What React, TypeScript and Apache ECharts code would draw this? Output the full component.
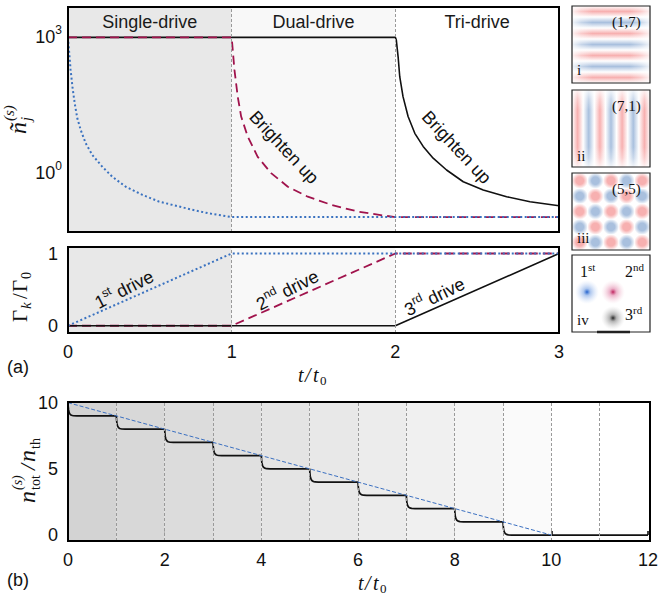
import React, { useEffect, useRef } from 'react';
import * as echarts from 'echarts';

const SANS = '"Liberation Sans", Arial, Helvetica, sans-serif';
const SERIF = '"Liberation Serif", "Times New Roman", serif';

// ---------- Panel (a), upper: log10 of ñ_j^(s) versus t/t0 ----------
const regionNames = ['Single-drive', 'Dual-drive', 'Tri-drive'];
const regionColors = ['#e8e8e8', '#f8f8f8', '#ffffff'];
const topTickExponents = [0, 3];

const blueT = [0, 0.006, 0.016, 0.027, 0.041, 0.057, 0.078, 0.108, 0.149, 0.21, 0.271, 0.353, 0.455, 0.557, 0.66, 0.76, 0.863, 1.0, 3.0];
const blueLog = [3, 2.72, 2.28, 1.91, 1.54, 1.21, 0.95, 0.66, 0.4, 0.14, -0.08, -0.3, -0.48, -0.63, -0.72, -0.81, -0.89, -0.97, -0.97];

const redT = [0, 1.0, 1.017, 1.037, 1.058, 1.098, 1.159, 1.241, 1.343, 1.465, 1.609, 1.772, 1.935, 2.0, 3.0];
const redLog = [3, 3, 2.28, 1.69, 1.25, 0.81, 0.36, 0.0, -0.3, -0.52, -0.7, -0.85, -0.94, -0.97, -0.97];

const blackT = [0, 2.0, 2.006, 2.017, 2.027, 2.047, 2.078, 2.119, 2.17, 2.231, 2.313, 2.415, 2.537, 2.68, 2.823, 3.0];
const blackLog = [3, 3, 2.94, 2.57, 2.13, 1.69, 1.25, 0.88, 0.59, 0.33, 0.07, -0.19, -0.37, -0.52, -0.63, -0.72];

// ---------- Panel (a), lower: Γk/Γ0 ----------
const rateBlueT = [0, 1, 3];
const rateBlue = [0, 1, 1];
const rateRedT = [0, 1, 2, 3];
const rateRed = [0, 0, 1, 1];
const rateBlackT = [0, 2, 3];
const rateBlack = [0, 0, 1];

// ---------- Panel (b): n_tot/n_th ----------
const stepTimes = [0, 1, 2, 3, 4, 5, 6, 7, 8, 9];
const stepLevels = [10, 9, 8, 7, 6, 5, 4, 3, 2, 1];
const dropDt = [0, 0.005, 0.012, 0.025, 0.045, 0.07, 0.11, 0.18];
const dropFrac = [0, 0.3, 0.55, 0.75, 0.88, 0.95, 0.99, 1];
const stepEnd = [12, 0];
const linearT = [0, 10];
const linearN = [10, 0];
const bandShades = ['#d3d3d3', '#d8d8d8', '#dcdcdc', '#e0e0e0', '#e4e4e4', '#e8e8e8', '#ececec', '#f0f0f0', '#f4f4f4', '#fafafa'];

// annotations (data coordinates)
const annotations = [
  { grid: 0, t: 1.32, v: 0.57, num: '', sup: '', text: 'Brighten up', angle: -47 },
  { grid: 0, t: 2.374, v: 0.57, num: '', sup: '', text: 'Brighten up', angle: -47 },
  { grid: 1, t: 0.343, v: 0.5, num: '1', sup: 'st', text: ' drive', angle: 27 },
  { grid: 1, t: 1.341, v: 0.49, num: '2', sup: 'nd', text: ' drive', angle: 27 },
  { grid: 1, t: 2.24, v: 0.4, num: '3', sup: 'rd', text: ' drive', angle: 26 },
];

// layout
const G0 = { left: 68, top: 7, width: 491, height: 225 };
const G1 = { left: 68, top: 247, width: 491, height: 86 };
const G2 = { left: 68, top: 402, width: 582, height: 139 };

const INSET_X = 572;
const INSET_W = 78;
const INSET_H = 77;
const insetTops = [6, 90, 173, 255];
const RED = '#f7b0b0';
const BLUE = '#a9c0de';

const zip = (a: number[], b: number[]) => a.map((x, i) => [x, b[i]]);

function stepData() {
  const pts: number[][] = [];
  stepTimes.forEach((t0, k) => {
    dropDt.forEach((dt, i) => pts.push([t0 + dt, stepLevels[k] - dropFrac[i]]));
  });
  pts.push(stepEnd);
  return pts;
}

function stripeStops(n: number) {
  const stops: any[] = [];
  for (let k = 0; k <= 2 * n; k++) {
    const off = k / (2 * n);
    if (k % 2 === 0) stops.push({ offset: off, color: '#ffffff' });
    else stops.push({ offset: off, color: ((k - 1) / 2) % 2 === 0 ? RED : BLUE });
  }
  return stops;
}

const fadeStops = [
  { offset: 0, color: 'rgba(255,255,255,0.85)' },
  { offset: 0.12, color: 'rgba(255,255,255,0.35)' },
  { offset: 0.26, color: 'rgba(255,255,255,0)' },
  { offset: 0.74, color: 'rgba(255,255,255,0)' },
  { offset: 0.88, color: 'rgba(255,255,255,0.35)' },
  { offset: 1, color: 'rgba(255,255,255,0.85)' },
];

const tickStyle = { show: true, inside: true, length: 4, lineStyle: { color: '#000', width: 1.5 } };
const lbl = { fontSize: 18, fontFamily: SANS, color: '#111' };

function txt(x: number, y: number, text: string, size: number, extra: any = {}) {
  return {
    type: 'text', x, y,
    style: { text, fontSize: size, fontFamily: SERIF, fill: '#111', align: 'left', verticalAlign: 'middle', ...extra },
  };
}

function buildInsets() {
  const els: any[] = [];
  const [t1, t2, t3, t4] = insetTops;
  // i : (1,7) horizontal stripes
  els.push({ type: 'rect', shape: { x: INSET_X, y: t1, width: INSET_W, height: INSET_H }, style: { fill: { type: 'linear', x: 0, y: 0, x2: 0, y2: 1, colorStops: stripeStops(7) } } });
  els.push({ type: 'rect', shape: { x: INSET_X, y: t1, width: INSET_W, height: INSET_H }, style: { fill: { type: 'linear', x: 0, y: 0, x2: 1, y2: 0, colorStops: fadeStops } } });
  // ii : (7,1) vertical stripes
  els.push({ type: 'rect', shape: { x: INSET_X, y: t2, width: INSET_W, height: INSET_H }, style: { fill: { type: 'linear', x: 0, y: 0, x2: 1, y2: 0, colorStops: stripeStops(7) } } });
  els.push({ type: 'rect', shape: { x: INSET_X, y: t2, width: INSET_W, height: INSET_H }, style: { fill: { type: 'linear', x: 0, y: 0, x2: 0, y2: 1, colorStops: fadeStops } } });
  // iii : (5,5) checkerboard
  els.push({ type: 'rect', shape: { x: INSET_X, y: t3, width: INSET_W, height: INSET_H }, style: { fill: '#fff' } });
  const cw = INSET_W / 5, ch = INSET_H / 5;
  for (let r = 0; r < 5; r++) {
    for (let c = 0; c < 5; c++) {
      const col = (r + c) % 2 === 0 ? RED : BLUE;
      els.push({
        type: 'rect', shape: { x: INSET_X + c * cw, y: t3 + r * ch, width: cw, height: ch },
        style: { fill: { type: 'radial', x: 0.5, y: 0.5, r: 0.7, colorStops: [{ offset: 0, color: col }, { offset: 0.35, color: col }, { offset: 0.75, color: '#ffffff' }, { offset: 1, color: '#ffffff' }] } },
      });
    }
  }
  // iv : spots
  els.push({ type: 'rect', shape: { x: INSET_X, y: t4, width: INSET_W, height: INSET_H }, style: { fill: '#fff' } });
  const spot = (cx: number, cy: number, c0: string, c1: string, c2: string) => ({
    type: 'circle', shape: { cx, cy, r: 12 },
    style: { fill: { type: 'radial', x: 0.5, y: 0.5, r: 0.5, colorStops: [{ offset: 0, color: c0 }, { offset: 0.3, color: c1 }, { offset: 1, color: c2 }] } },
  });
  els.push(spot(INSET_X + 15, t4 + 37, 'rgba(30,95,205,1)', 'rgba(110,155,225,0.55)', 'rgba(190,210,245,0)'));
  els.push(spot(INSET_X + 41, t4 + 37, 'rgba(190,30,90,1)', 'rgba(220,120,160,0.55)', 'rgba(245,200,215,0)'));
  els.push(spot(INSET_X + 41, t4 + 63, 'rgba(35,35,35,1)', 'rgba(120,120,120,0.55)', 'rgba(200,200,200,0)'));
  // borders
  insetTops.forEach((t) => els.push({ type: 'rect', z: 50, shape: { x: INSET_X, y: t, width: INSET_W, height: INSET_H }, style: { fill: 'none', stroke: '#222', lineWidth: 1.2 } }));
  els.push({ type: 'line', z: 51, shape: { x1: INSET_X + 25, y1: t4 + INSET_H, x2: INSET_X + 58, y2: t4 + INSET_H }, style: { stroke: '#222', lineWidth: 2.5 } });
  // labels
  els.push(txt(INSET_X + 40, t1 + 16, '(1,7)', 15, { z: 60 }));
  els.push(txt(INSET_X + 5, t1 + 64, 'i', 15));
  els.push(txt(INSET_X + 40, t2 + 16, '(7,1)', 15));
  els.push(txt(INSET_X + 5, t2 + 66, 'ii', 15));
  els.push(txt(INSET_X + 40, t3 + 16, '(5,5)', 15));
  els.push(txt(INSET_X + 5, t3 + 65, 'iii', 15));
  els.push(txt(INSET_X + 8, t4 + 16, '1', 16));
  els.push(txt(INSET_X + 16, t4 + 12, 'st', 11));
  els.push(txt(INSET_X + 53, t4 + 16, '2', 16));
  els.push(txt(INSET_X + 61, t4 + 12, 'nd', 11));
  els.push(txt(INSET_X + 53, t4 + 59, '3', 16));
  els.push(txt(INSET_X + 61, t4 + 55, 'rd', 11));
  els.push(txt(INSET_X + 5, t4 + 65, 'iv', 15));
  return els;
}

function titles() {
  const it = { fontStyle: 'italic' };
  return [
    // ñ_j^(s)
    { type: 'group', x: 18, y: 134, rotation: Math.PI / 2, children: [
      txt(0, 0, 'ñ', 24, it),
      txt(13, -9, '(s)', 15, it),
      txt(13, 8, 'j', 15, it),
    ] },
    // Γk/Γ0
    { type: 'group', x: 20, y: 322, rotation: Math.PI / 2, children: [
      txt(0, 0, 'Γ', 21),
      txt(13, 6, 'k', 15, it),
      txt(23, 0, '/', 21),
      txt(30, 0, 'Γ', 21),
      txt(43, 6, '0', 14),
    ] },
    // n_tot^(s)/n_th
    { type: 'group', x: 27, y: 503, rotation: Math.PI / 2, children: [
      txt(0, 0, 'n', 24, it),
      txt(13, -10, '(s)', 14, it),
      txt(13, 8, 'tot', 14),
      txt(33, 0, '/', 22, it),
      txt(41, 0, 'n', 24, it),
      txt(54, 8, 'th', 14),
    ] },
    // t/t0 (a)
    { type: 'group', x: 298, y: 375, children: [
      txt(0, 0, 't', 20, it), txt(7, 0, '/', 20, it), txt(15, 0, 't', 20, it), txt(22, 5, '0', 13),
    ] },
    // t/t0 (b)
    { type: 'group', x: 358, y: 583, children: [
      txt(0, 0, 't', 20, it), txt(7, 0, '/', 20, it), txt(15, 0, 't', 20, it), txt(22, 5, '0', 13),
    ] },
    { type: 'text', x: 7, y: 367, style: { text: '(a)', fontSize: 18, fontFamily: SANS, fill: '#111', verticalAlign: 'middle' } },
    { type: 'text', x: 7, y: 580, style: { text: '(b)', fontSize: 18, fontFamily: SANS, fill: '#111', verticalAlign: 'middle' } },
  ];
}

function frames() {
  return [G0, G1, G2].map((g) => ({
    type: 'rect', z: 100, shape: { x: g.left, y: g.top, width: g.width, height: g.height },
    style: { fill: 'none', stroke: '#000', lineWidth: 2 },
  }));
}

const dashedV = { color: '#9a9a9a', type: [3, 2], width: 1 };

function buildOption(): any {
  return {
    animation: false,
    backgroundColor: '#ffffff',
    grid: [
      { ...G0, containLabel: false },
      { ...G1, containLabel: false },
      { ...G2, containLabel: false },
    ],
    xAxis: [
      { gridIndex: 0, type: 'value', min: 0, max: 3, interval: 1, axisLine: { show: false }, axisTick: tickStyle, axisLabel: { show: false }, splitLine: { show: false } },
      { gridIndex: 1, type: 'value', min: 0, max: 3, interval: 1, axisLine: { show: false }, axisTick: tickStyle, axisLabel: { ...lbl, margin: 10 }, splitLine: { show: false } },
      { gridIndex: 2, type: 'value', min: 0, max: 12, interval: 2, axisLine: { show: false }, axisTick: tickStyle, axisLabel: { ...lbl, margin: 10 }, splitLine: { show: false } },
    ],
    yAxis: [
      {
        gridIndex: 0, type: 'value', min: -1.3, max: 3.67, axisLine: { show: false },
        axisTick: { ...tickStyle, customValues: topTickExponents },
        axisLabel: {
          customValues: topTickExponents, margin: 6,
          formatter: (v: number) => `{b|10}{s|${v}}`,
          rich: {
            b: { fontSize: 18, fontFamily: SANS, color: '#111', lineHeight: 26 },
            s: { fontSize: 12, fontFamily: SANS, color: '#111', verticalAlign: 'top' },
          },
        },
        splitLine: { show: false },
      },
      { gridIndex: 1, type: 'value', min: -0.1, max: 1.09, axisLine: { show: false }, axisTick: { ...tickStyle, customValues: [0, 1] }, axisLabel: { ...lbl, margin: 10, customValues: [0, 1] }, splitLine: { show: false } },
      { gridIndex: 2, type: 'value', min: -0.45, max: 10.05, axisLine: { show: false }, axisTick: { ...tickStyle, customValues: [0, 5, 10] }, axisLabel: { ...lbl, margin: 10, customValues: [0, 5, 10] }, splitLine: { show: false } },
    ],
    series: [
      // panel (a) upper backgrounds
      {
        type: 'line', xAxisIndex: 0, yAxisIndex: 0, data: [], silent: true, z: 1,
        markArea: {
          silent: true,
          label: { show: true, position: 'insideTop', distance: 6, fontSize: 18, fontFamily: SANS, color: '#1a1a1a' },
          data: regionNames.map((n, i) => [{ xAxis: i, name: n, itemStyle: { color: regionColors[i] } }, { xAxis: i + 1 }]),
        },
        markLine: { silent: true, symbol: 'none', label: { show: false }, lineStyle: dashedV, data: [{ xAxis: 1 }, { xAxis: 2 }] },
      },
      { type: 'line', xAxisIndex: 0, yAxisIndex: 0, data: zip(blackT, blackLog), symbol: 'none', z: 3, lineStyle: { color: '#111', width: 1.6 } },
      { type: 'line', xAxisIndex: 0, yAxisIndex: 0, data: zip(redT, redLog), symbol: 'none', z: 4, lineStyle: { color: '#a0134c', width: 1.8, type: [9, 5] } },
      { type: 'line', xAxisIndex: 0, yAxisIndex: 0, data: zip(blueT, blueLog), symbol: 'none', z: 5, lineStyle: { color: '#3a72c0', width: 2, type: [2, 2.5] } },

      // panel (a) lower
      {
        type: 'line', xAxisIndex: 1, yAxisIndex: 1, data: [], silent: true, z: 1,
        markArea: { silent: true, data: regionColors.map((c, i) => [{ xAxis: i, itemStyle: { color: c } }, { xAxis: i + 1 }]) },
        markLine: { silent: true, symbol: 'none', label: { show: false }, lineStyle: dashedV, data: [{ xAxis: 1 }, { xAxis: 2 }] },
      },
      { type: 'line', xAxisIndex: 1, yAxisIndex: 1, data: zip(rateRedT, rateRed), symbol: 'none', z: 3, lineStyle: { color: '#a0134c', width: 1.8, type: [9, 5] } },
      { type: 'line', xAxisIndex: 1, yAxisIndex: 1, data: zip(rateBlackT, rateBlack), symbol: 'none', z: 4, lineStyle: { color: '#111', width: 1.6 } },
      { type: 'line', xAxisIndex: 1, yAxisIndex: 1, data: zip(rateBlueT, rateBlue), symbol: 'none', z: 5, lineStyle: { color: '#3a72c0', width: 2, type: [2, 2.5] } },

      // panel (b)
      {
        type: 'line', xAxisIndex: 2, yAxisIndex: 2, data: [], silent: true, z: 1,
        markArea: { silent: true, data: bandShades.map((c, i) => [{ xAxis: i, itemStyle: { color: c } }, { xAxis: i + 1 }]) },
        markLine: { silent: true, symbol: 'none', label: { show: false }, lineStyle: dashedV, data: [1, 2, 3, 4, 5, 6, 7, 8, 9, 10, 11].map((x) => ({ xAxis: x })) },
      },
      { type: 'line', xAxisIndex: 2, yAxisIndex: 2, data: stepData(), symbol: 'none', z: 4, lineStyle: { color: '#111', width: 1.7 } },
      { type: 'line', xAxisIndex: 2, yAxisIndex: 2, data: zip(linearT, linearN), symbol: 'none', z: 5, lineStyle: { color: '#3a6fc0', width: 1, type: [4, 2] } },
    ],
  };
}

export default function App() {
  const ref = useRef<HTMLDivElement>(null);
  useEffect(() => {
    const chart = echarts.init(ref.current as HTMLDivElement, null, { renderer: 'svg' });
    chart.setOption(buildOption());
    const ann = annotations.map((a) => {
      const p = chart.convertToPixel({ gridIndex: a.grid } as any, [a.t, a.v]) as number[];
      const text = a.num ? `{a|${a.num}}{s|${a.sup}}{a|${a.text}}` : `{a|${a.text}}`;
      return {
        type: 'text', x: p[0], y: p[1], rotation: (a.angle * Math.PI) / 180, z: 20,
        style: {
          text, align: 'center', verticalAlign: 'middle',
          rich: {
            a: { fontSize: 18, fontFamily: SANS, fill: '#111', lineHeight: 24 },
            s: { fontSize: 12, fontFamily: SANS, fill: '#111', verticalAlign: 'top' },
          },
        },
      };
    });
    chart.setOption({ graphic: [...buildInsets(), ...titles(), ...frames(), ...ann] });
    return () => chart.dispose();
  }, []);
  return <div ref={ref} style={{ position: 'absolute', left: 0, top: 0, width: 661, height: 597 }} />;
}
